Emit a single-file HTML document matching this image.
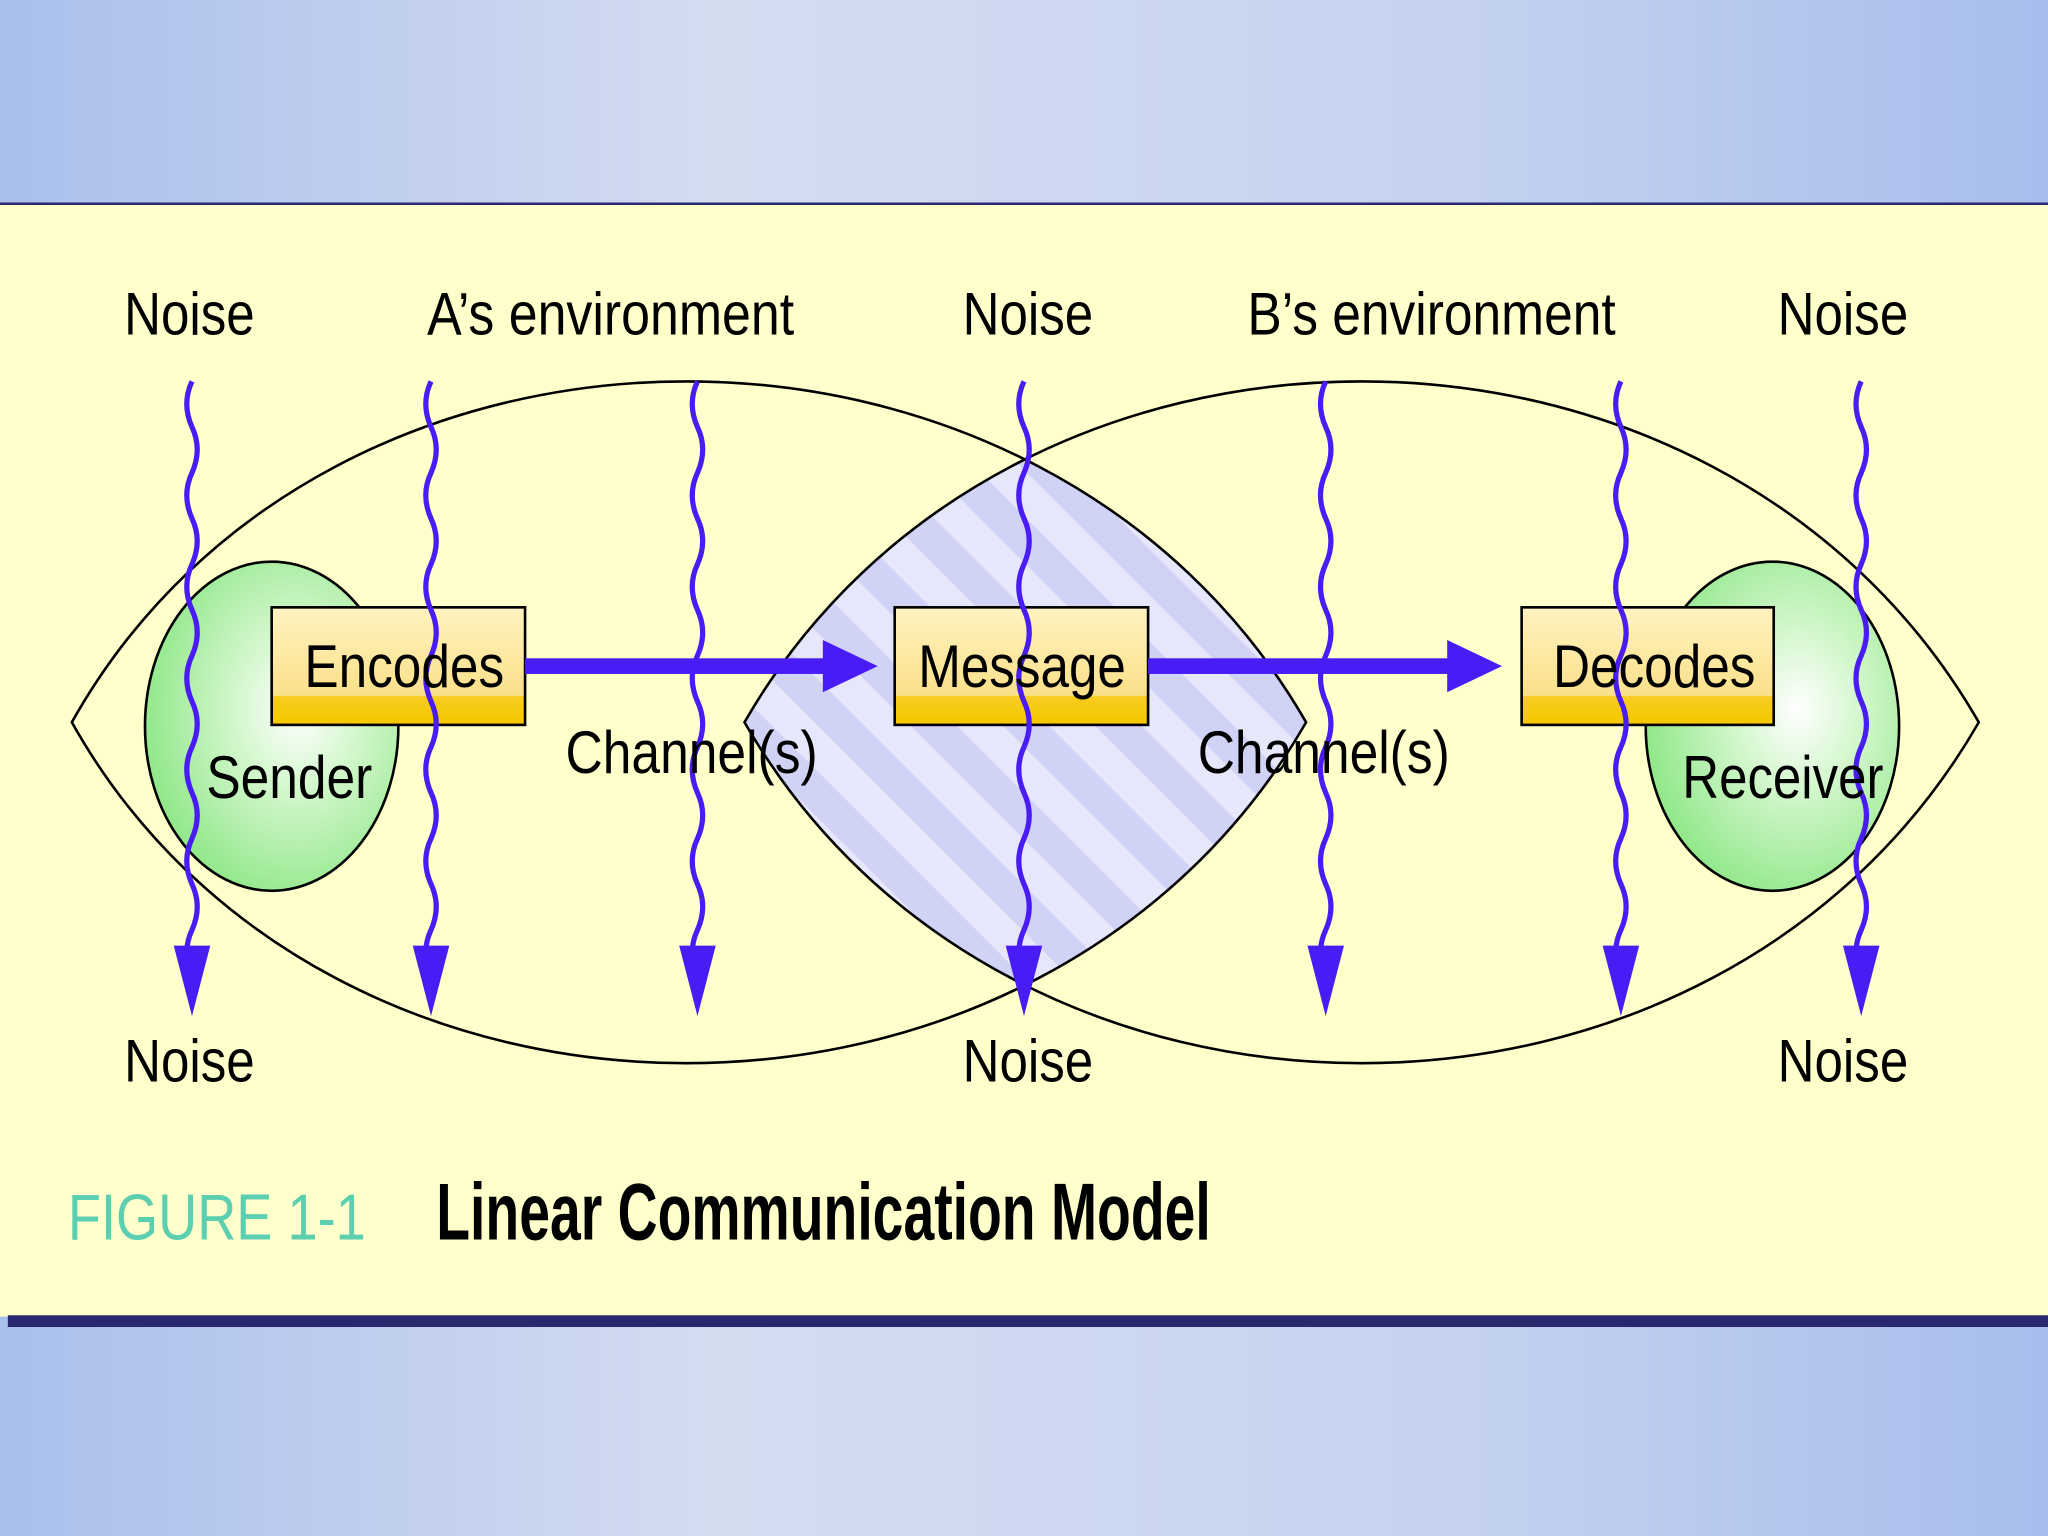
<!DOCTYPE html>
<html><head><meta charset="utf-8"><style>
html,body{margin:0;padding:0;width:2048px;height:1536px;overflow:hidden}
svg{display:block}
text{font-family:"Liberation Sans",sans-serif;fill:#000}
</style></head><body>
<svg width="2048" height="1536" viewBox="0 0 1568 1176" xmlns="http://www.w3.org/2000/svg">
<defs>
<linearGradient id="bg" x1="0" y1="0" x2="1" y2="0">
<stop offset="0" stop-color="#a9bfec"/><stop offset="0.35" stop-color="#d4dcf0"/><stop offset="0.7" stop-color="#c6d3f0"/><stop offset="1" stop-color="#a8bdec"/>
</linearGradient>
<radialGradient id="grn" cx="0.6" cy="0.45" r="0.6">
<stop offset="0" stop-color="#ffffff"/><stop offset="0.45" stop-color="#cff6c8"/><stop offset="1" stop-color="#92e88b"/>
</radialGradient>
<linearGradient id="box" x1="0" y1="0" x2="0" y2="1">
<stop offset="0" stop-color="#fff3c0"/><stop offset="0.75" stop-color="#fbe08a"/><stop offset="0.76" stop-color="#f7cc20"/><stop offset="1" stop-color="#f5c800"/>
</linearGradient>
<pattern id="str" width="50" height="50" patternUnits="userSpaceOnUse" patternTransform="rotate(-45)">
<rect width="50" height="50" fill="#e6e7fb"/><rect width="25" height="50" fill="#d0d2f6"/>
</pattern>
<clipPath id="cl"><path d="M55,553 C250,205 800,205 1000,553 C800,901 250,901 55,553 Z"/></clipPath>
<path id="wave" d="M0,0 q-8,17 0,35 q8,17 0,35 q-8,17 0,35 q8,17 0,35 q-8,17 0,35 q8,17 0,35 q-8,17 0,35 q8,17 0,35 q-8,17 0,35 q8,17 0,35 q-8,17 0,35 q8,17 0,35 q-8,17 0,35" fill="none" stroke="#4a1cf5" stroke-width="4"/>
</defs>
<rect width="1568" height="1176" fill="url(#bg)"/>
<rect x="0" y="156" width="1568" height="852" fill="#ffffcc"/>
<line x1="0" y1="156" x2="1568" y2="156" stroke="#2a2a70" stroke-width="2"/>
<rect x="6" y="1007" width="1562" height="9" fill="#28286e"/>

<path d="M570,553 C770,205 1315,205 1515,553 C1315,901 770,901 570,553 Z" fill="url(#str)" clip-path="url(#cl)"/>
<path d="M55,553 C250,205 800,205 1000,553 C800,901 250,901 55,553 Z" fill="none" stroke="#000" stroke-width="2"/>
<path d="M570,553 C770,205 1315,205 1515,553 C1315,901 770,901 570,553 Z" fill="none" stroke="#000" stroke-width="2"/>

<ellipse cx="208" cy="556" rx="97" ry="126" fill="url(#grn)" stroke="#000" stroke-width="2"/>
<ellipse cx="1357" cy="556" rx="97" ry="126" fill="url(#grn)" stroke="#000" stroke-width="2"/>

<g>
<rect x="208" y="465" width="194" height="90" fill="url(#box)" stroke="#000" stroke-width="2"/>
<rect x="685" y="465" width="194" height="90" fill="url(#box)" stroke="#000" stroke-width="2"/>
<rect x="1165" y="465" width="193" height="90" fill="url(#box)" stroke="#000" stroke-width="2"/>
</g>

<g fill="#4a1cf5">
<rect x="402" y="504" width="236" height="12"/>
<path d="M630,490 L672,510 L630,530 Z"/>
<rect x="879" y="504" width="236" height="12"/>
<path d="M1108,490 L1150,510 L1108,530 Z"/>
</g>

<g>
<use href="#wave" x="147" y="292"/>
<use href="#wave" x="330" y="292"/>
<use href="#wave" x="534" y="292"/>
<use href="#wave" x="784" y="292"/>
<use href="#wave" x="1015" y="292"/>
<use href="#wave" x="1241" y="292"/>
<use href="#wave" x="1425" y="292"/>
</g>
<g fill="#4a1cf5">
<path d="M133,724 L147,778 L161,724 Z"/>
<path d="M316,724 L330,778 L344,724 Z"/>
<path d="M520,724 L534,778 L548,724 Z"/>
<path d="M770,724 L784,778 L798,724 Z"/>
<path d="M1001,724 L1015,778 L1029,724 Z"/>
<path d="M1227,724 L1241,778 L1255,724 Z"/>
<path d="M1411,724 L1425,778 L1439,724 Z"/>
</g>

<g font-size="46">
<text x="95" y="256" textLength="100" lengthAdjust="spacingAndGlyphs">Noise</text>
<text x="327" y="256" textLength="281" lengthAdjust="spacingAndGlyphs">A’s environment</text>
<text x="737" y="256" textLength="100" lengthAdjust="spacingAndGlyphs">Noise</text>
<text x="955" y="256" textLength="282" lengthAdjust="spacingAndGlyphs">B’s environment</text>
<text x="1361" y="256" textLength="100" lengthAdjust="spacingAndGlyphs">Noise</text>
<text x="95" y="828" textLength="100" lengthAdjust="spacingAndGlyphs">Noise</text>
<text x="737" y="828" textLength="100" lengthAdjust="spacingAndGlyphs">Noise</text>
<text x="1361" y="828" textLength="100" lengthAdjust="spacingAndGlyphs">Noise</text>
<text x="433" y="592" textLength="193" lengthAdjust="spacingAndGlyphs">Channel(s)</text>
<text x="917" y="592" textLength="193" lengthAdjust="spacingAndGlyphs">Channel(s)</text>
<text x="158" y="611" textLength="127" lengthAdjust="spacingAndGlyphs">Sender</text>
<text x="1288" y="611" textLength="154" lengthAdjust="spacingAndGlyphs">Receiver</text>
<text x="233" y="526" textLength="153" lengthAdjust="spacingAndGlyphs">Encodes</text>
<text x="703" y="526" textLength="159" lengthAdjust="spacingAndGlyphs">Message</text>
<text x="1189" y="526" textLength="155" lengthAdjust="spacingAndGlyphs">Decodes</text>
</g>
<text x="52" y="949" font-size="50" style="fill:#5ccfb0" textLength="228" lengthAdjust="spacingAndGlyphs">FIGURE 1-1</text>
<text x="334" y="949" font-size="62" font-weight="bold" textLength="593" lengthAdjust="spacingAndGlyphs">Linear Communication Model</text>
</svg>
</body></html>
